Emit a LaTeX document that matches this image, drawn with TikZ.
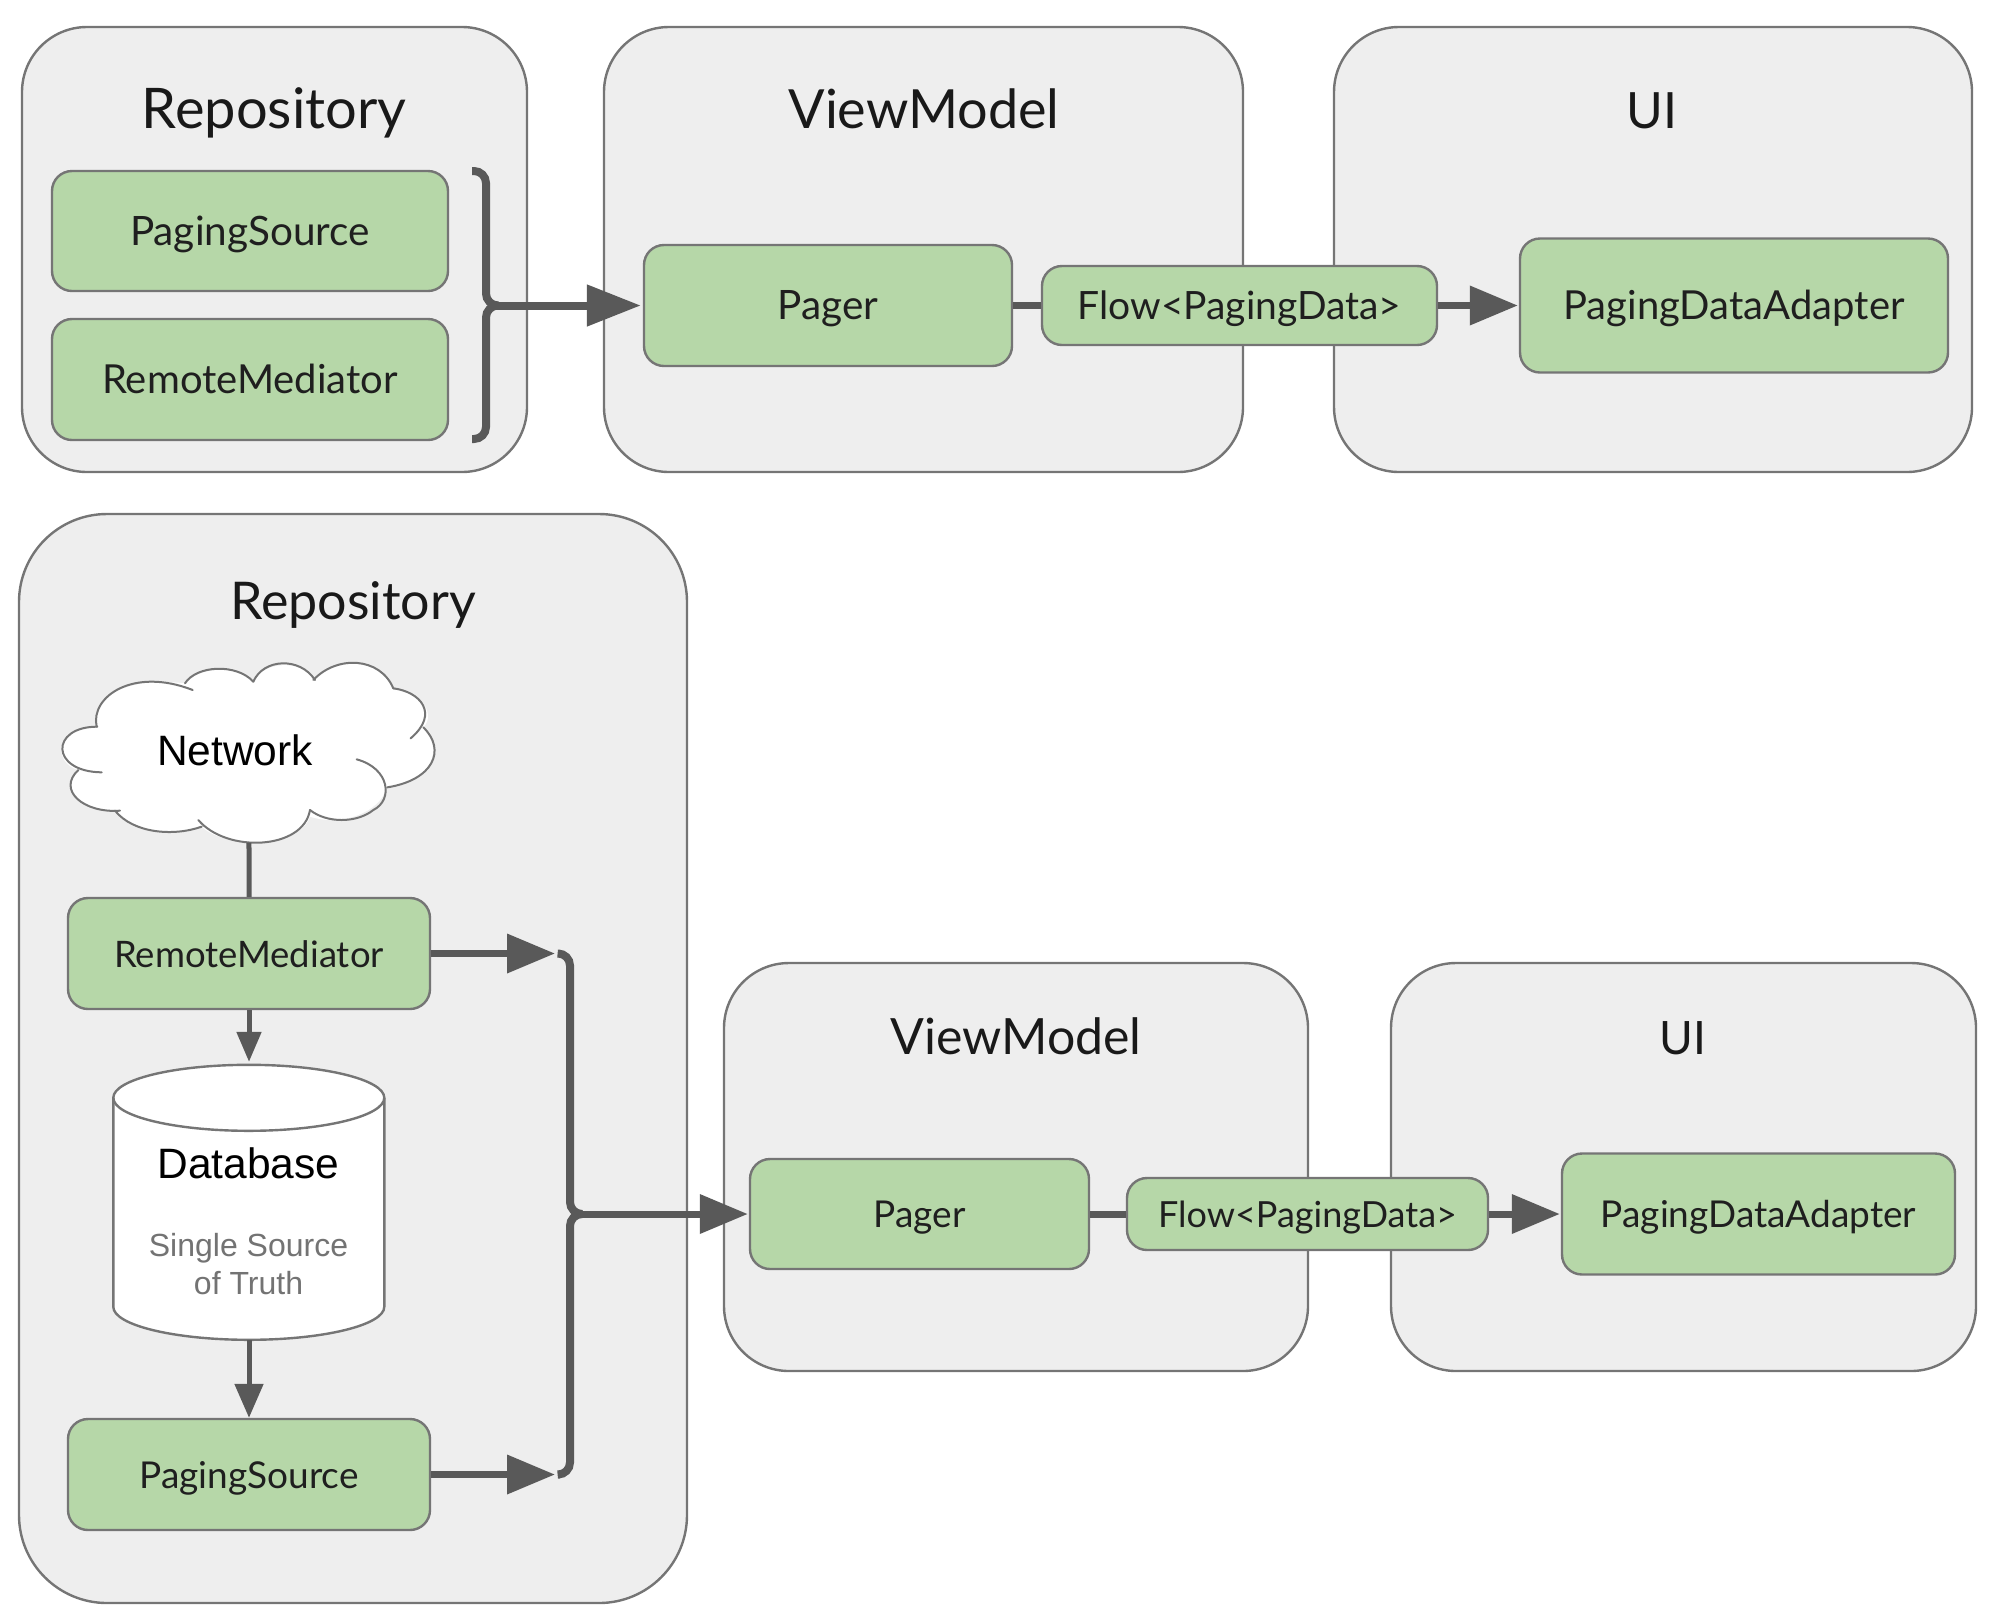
\documentclass[tikz,border=0pt]{standalone}
\usepackage{fontspec}
\setmainfont{Lato}
\newfontfamily\arialfont{Liberation Sans}
\usetikzlibrary{arrows.meta}
\definecolor{groupfill}{HTML}{EEEEEE}
\definecolor{groupline}{HTML}{757575}
\definecolor{boxfill}{HTML}{B6D7A8}
\definecolor{linkcol}{HTML}{595959}
\tikzset{
  groupbox/.style={draw=groupline,fill=groupfill,line width=2.4pt,rounded corners=65pt,inner sep=0pt},
  greenbox/.style={draw=groupline,fill=boxfill,line width=2.4pt,rounded corners=20pt,inner sep=0pt,text=black!88,
     font=\fontsize{40.5}{40}\selectfont,text height=36pt,text depth=8pt},
  smallgreen/.style={greenbox,font=\fontsize{37}{37}\selectfont,text height=34pt,text depth=7pt},
  titletext/.style={anchor=base,inner sep=0pt,font=\fontsize{52}{52}\selectfont,text=black!90},
  heavylink/.style={draw=linkcol,line width=8pt},
  heavyarrow/.style={heavylink,-{Triangle[length=54pt,width=40pt]}},
  medarrow/.style={draw=linkcol,line width=7pt,-{Triangle[length=48pt,width=38pt]}},
  thinlink/.style={draw=linkcol,line width=5pt},
  thinarrow/.style={thinlink,-{Triangle[length=30pt,width=24pt]}},
  bracketline/.style={draw=linkcol,line width=8pt,rounded corners=12pt},
  cloudline/.style={draw=groupline,line width=2pt,line cap=round},
  arialtext/.style={inner sep=0pt,font=\arialfont\fontsize{42.5}{42.5}\selectfont,text=black},
  greytext/.style={inner sep=0pt,font=\arialfont\fontsize{32}{32}\selectfont,text=black!55},
}
\begin{document}
\begin{tikzpicture}[x=1pt,y=-1pt]
\useasboundingbox (0,0) rectangle (1999,1618);

% top row groups
\node[groupbox,minimum width=505pt,minimum height=445pt] (repoA) at (274.5,249.5) {};
\node[groupbox,minimum width=639pt,minimum height=445pt] (vmA) at (923.5,249.5) {};
\node[groupbox,minimum width=638pt,minimum height=445pt] (uiA) at (1653,249.5) {};
\node[titletext,font=\fontsize{56}{56}\selectfont] (repoAt) at (274,128) {Repository};
\node[titletext,font=\fontsize{54}{54}\selectfont] (vmAt) at (924,128) {ViewModel};
\node[titletext,font=\fontsize{50}{50}\selectfont] (uiAt) at (1652,128) {UI};

\node[greenbox,minimum width=396pt,minimum height=120pt] (psA) at (250,231) {PagingSource};
\node[greenbox,font=\fontsize{40}{40}\selectfont,minimum width=396pt,minimum height=121pt] (rmA) at (250,379.5) {RemoteMediator};
\node[greenbox,minimum width=368pt,minimum height=121pt] (pagerA) at (828,305.5) {Pager};
\node[greenbox,font=\fontsize{39}{39}\selectfont,minimum width=395pt,minimum height=79pt] (flowA) at (1239.5,305.5) {Flow<PagingData>};
\node[greenbox,font=\fontsize{40}{40}\selectfont,minimum width=428pt,minimum height=134pt] (pdaA) at (1734,305.5) {PagingDataAdapter};

% top bracket
\coordinate (brA) at (496,305.5);
\draw[bracketline] (472,171) -- (486,171) -- (486,305.5) -- (brA);
\draw[bracketline] (472,439) -- (486,439) -- (486,305.5) -- (brA);
\draw[heavyarrow,shorten >=2pt] (brA) -- (pagerA.west);
\draw[medarrow,-] (pagerA.east) -- (flowA.west);
\draw[medarrow,shorten >=1pt] (flowA.east) -- (pdaA.west);

% bottom row groups
\node[groupbox,rounded corners=88pt,minimum width=668pt,minimum height=1089pt] (repoB) at (353,1058.5) {};
\node[groupbox,minimum width=584pt,minimum height=408pt] (vmB) at (1016,1167) {};
\node[groupbox,minimum width=585pt,minimum height=408pt] (uiB) at (1683.5,1167) {};
\node[titletext] (repoBt) at (353,619) {Repository};
\node[titletext,font=\fontsize{50}{50}\selectfont] (vmBt) at (1016,1054) {ViewModel};
\node[titletext,font=\fontsize{46}{46}\selectfont] (uiBt) at (1683,1054) {UI};

% cloud
\begin{scope}[shift={(0,620)},x=0.33333pt,y=-0.33333pt]
\coordinate (cloudbot) at (747,668);
\fill[white] (290,320) .. controls (270,230) and (380,170) .. (555,190)
  .. controls (590,145) and (710,130) .. (760,185)
  .. controls (790,125) and (900,115) .. (945,180)
  .. controls (1010,110) and (1140,115) .. (1180,205)
  .. controls (1260,215) and (1310,280) .. (1270,322)
  .. controls (1330,390) and (1300,480) .. (1160,502)
  .. controls (1140,580) and (1020,620) .. (930,590)
  .. controls (900,680) and (680,690) .. (605,620)
  .. controls (520,650) and (400,640) .. (345,572)
  .. controls (250,575) and (170,500) .. (235,450)
  .. controls (160,430) and (160,320) .. (290,320) -- cycle;
\draw[cloudline] (290,320) .. controls (270,230) and (400,140) .. (578,210);
\draw[cloudline] (555,190) .. controls (590,135) and (710,130) .. (760,185);
\draw[cloudline] (760,185) .. controls (790,115) and (900,110) .. (945,180);
\draw[cloudline] (940,180) .. controls (1010,105) and (1140,110) .. (1180,205);
\draw[cloudline] (1180,205) .. controls (1260,215) and (1320,280) .. (1232,355);
\draw[cloudline] (1270,322) .. controls (1340,390) and (1300,480) .. (1162,502);
\draw[cloudline] (1070,418) .. controls (1170,445) and (1180,540) .. (1120,570) .. controls (1070,610) and (980,610) .. (930,570);
\draw[cloudline] (930,570) .. controls (910,690) and (680,700) .. (595,600);
\draw[cloudline] (605,620) .. controls (520,650) and (400,640) .. (345,572);
\draw[cloudline] (360,572) .. controls (250,580) and (170,510) .. (235,450);
\draw[cloudline] (305,457) .. controls (150,455) and (150,320) .. (292,320);
\end{scope}
\node[arialtext] (network) at (235,750) {Network};

\node[greenbox,smallgreen,font=\fontsize{36.5}{37}\selectfont,minimum width=362pt,minimum height=111pt] (rmB) at (249,953.5) {RemoteMediator};
\node[greenbox,smallgreen,minimum width=362pt,minimum height=111pt] (psB) at (249,1474.5) {PagingSource};

% database
\node[minimum width=271pt,minimum height=275pt,inner sep=0pt] (db) at (249,1202.5) {};
\draw[draw=groupline,fill=white,line width=2.4pt]
  (db.north west) ++(0,33) -- ++(0,209)
  arc[start angle=180,end angle=360,x radius=135.5,y radius=-33]
  -- ++(0,-209)
  arc[start angle=0,end angle=180,x radius=135.5,y radius=-33] -- cycle;
\draw[draw=groupline,line width=2.4pt]
  (db.north west) ++(0,33) arc[start angle=180,end angle=360,x radius=135.5,y radius=-33];
\node[arialtext] (dbt) at (248.5,1163) {Database};
\node[greytext] (dbs) at (248.5,1248) {Single Source};
\node[greytext] (dbo) at (248.5,1283) {of Truth};

\draw[thinlink] (cloudbot) -- (rmB.north);
\draw[thinarrow,shorten >=3pt] (rmB.south) -- (db.north);
\draw[thinarrow,-{Triangle[length=34pt,width=28pt]}] (db.south) -- (psB.north);

% bottom bracket
\coordinate (brBt) at (555,953.5);
\coordinate (brBb) at (555,1474.5);
\coordinate (brB) at (582,1214);
\draw[medarrow] (rmB.east) -- (brBt);
\draw[medarrow] (psB.east) -- (brBb);
\draw[bracketline] (560,953.5) -- (570,953.5) -- (570,1214) -- (brB);
\draw[bracketline] (560,1474.5) -- (570,1474.5) -- (570,1214) -- (brB);

\node[greenbox,smallgreen,minimum width=339pt,minimum height=110pt] (pagerB) at (919.5,1214) {Pager};
\node[greenbox,smallgreen,font=\fontsize{36}{36}\selectfont,minimum width=361pt,minimum height=72pt] (flowB) at (1307.5,1214) {Flow<PagingData>};
\node[greenbox,smallgreen,minimum width=393pt,minimum height=121pt] (pdaB) at (1758.5,1214) {PagingDataAdapter};

\draw[medarrow,shorten >=1pt] (brB) -- (pagerB.west);
\draw[medarrow,-] (pagerB.east) -- (flowB.west);
\draw[medarrow,shorten >=1pt] (flowB.east) -- (pdaB.west);
\end{tikzpicture}
\end{document}
